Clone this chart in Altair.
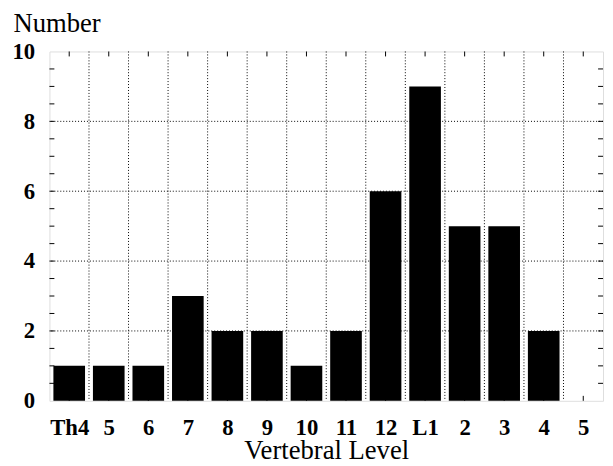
import json
import altair as alt
import pandas as pd

labels = ["Th4", "5", "6", "7", "8", "9", "10", "11", "12", "L1", "2", "3", "4", "5"]
counts = [1, 1, 1, 3, 2, 2, 1, 2, 6, 9, 5, 5, 2, 0]
y_ticks = [0, 2, 4, 6, 8, 10]
y_grid = [2, 4, 6, 8]
y_minor = [0.5 * i for i in range(1, 20)]

W, H = 561, 354
FONT = "Liberation Serif"

df = pd.DataFrame({"idx": list(range(len(labels))), "label": labels, "count": counts})
df["center"] = df["idx"] + 0.5
df["x0"] = df["idx"] + 0.1
df["x1"] = df["idx"] + 0.9

xscale = alt.Scale(domain=[0, len(labels)], nice=False, zero=False)
yscale = alt.Scale(domain=[0, 10], nice=False)

label_expr = json.dumps(labels) + "[floor(datum.value)]"

xaxis = alt.Axis(
    values=list(df["center"]), labelExpr=label_expr, ticks=False, tickSize=0,
    grid=False, domain=False, labelFont=FONT, labelFontSize=23,
    labelFontWeight="bold", labelColor="black", labelBaseline="alphabetic",
    labelPadding=34, labelAngle=0, labelOverlap=False,
    title="Vertebral Level", titleFont=FONT, titleFontSize=27,
    titleFontWeight="normal", titleColor="black", titleBaseline="alphabetic",
    titleY=58, titleX=W / 2)
yaxis = alt.Axis(
    values=y_ticks, ticks=False, tickSize=0, grid=False, domain=False,
    labelFont=FONT, labelFontSize=23, labelFontWeight="bold", labelColor="black",
    labelPadding=15,
    title="Number", titleAngle=0, titleX=-37, titleY=-20, titleAlign="left",
    titleBaseline="alphabetic", titleFont=FONT, titleFontSize=27,
    titleFontWeight="normal", titleColor="black")

base = alt.Chart(df)

bars = base.mark_bar(color="black").encode(
    x=alt.X("x0:Q", scale=xscale, axis=xaxis),
    x2="x1:Q",
    y=alt.Y("count:Q", scale=yscale, axis=yaxis),
    y2=alt.datum(0),
)

vgrid = alt.Chart(df[df["idx"] > 0]).mark_rule(
    color="black", strokeDash=[1, 2], strokeWidth=1).encode(
    x=alt.X("idx:Q", scale=xscale, axis=xaxis))

hgrid = alt.Chart(pd.DataFrame({"g": y_grid})).mark_rule(
    color="black", strokeDash=[1, 2], strokeWidth=1).encode(
    y=alt.Y("g:Q", scale=yscale, axis=yaxis))

top_ticks = base.mark_rule(color="black", strokeWidth=1).encode(
    x=alt.X("center:Q", scale=xscale, axis=xaxis), y=alt.value(0), y2=alt.value(5))
bottom_ticks = base.mark_rule(color="black", strokeWidth=1).encode(
    x=alt.X("center:Q", scale=xscale, axis=xaxis), y=alt.value(H - 5), y2=alt.value(H))

minor = pd.DataFrame({"m": y_minor})
left_ticks = alt.Chart(minor).mark_rule(color="black", strokeWidth=1).encode(
    y=alt.Y("m:Q", scale=yscale, axis=yaxis), x=alt.value(0), x2=alt.value(5))
right_ticks = alt.Chart(minor).mark_rule(color="black", strokeWidth=1).encode(
    y=alt.Y("m:Q", scale=yscale, axis=yaxis), x=alt.value(W - 5), x2=alt.value(W))

chart = alt.layer(
    vgrid, hgrid, bars, top_ticks, bottom_ticks, left_ticks, right_ticks
).properties(
    width=W, height=H,
    autosize=alt.AutoSizeParams(type="none"),
    padding={"left": 42, "top": 41, "right": 2, "bottom": 63},
).configure_view(stroke="black", strokeWidth=1.5).configure(background="white")

chart.save("out.html", embed_options={"renderer": "svg", "actions": False})
